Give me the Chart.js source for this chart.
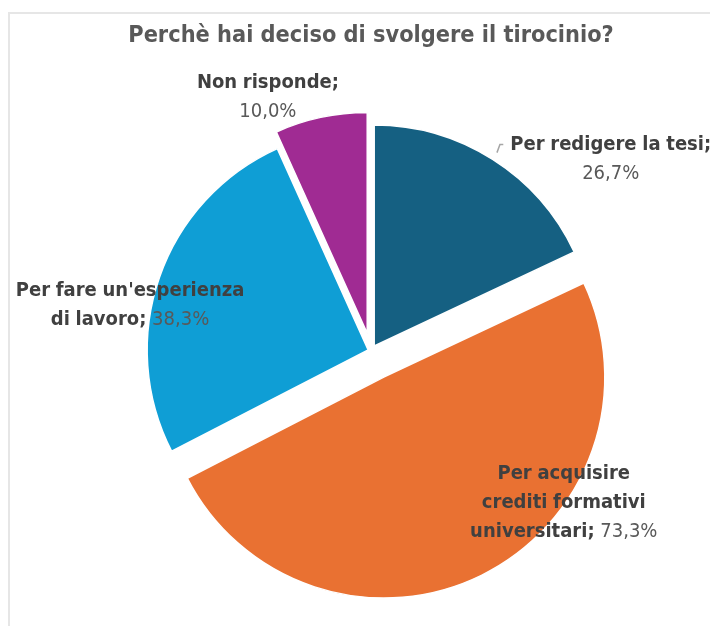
<!DOCTYPE html>
<html>
<head>
<meta charset="utf-8">
<script src="https://cdn.jsdelivr.net/npm/chart.js@4.4.1/dist/chart.umd.min.js"></script>
<style>
  html, body { margin: 0; padding: 0; background: #fff; overflow: hidden; }
  #wrap { position: relative; width: 710px; height: 626px; }
  #frame { position: absolute; left: 8px; top: 12px; width: 720px; height: 640px; border: 2px solid #e6e6e6; }
  #myChart { position: absolute; left: 0; top: 0; }
</style>
</head>
<body>
<div id="wrap">
  <div id="frame"></div>
  <canvas id="myChart" width="710" height="626"></canvas>
</div>
<script>
var titleText = 'Perchè hai deciso di svolgere il tirocinio?';
var categories = ['Per redigere la tesi', 'Per acquisire crediti formativi universitari', "Per fare un'esperienza di lavoro", 'Non risponde'];
var percentages = [26.7, 73.3, 38.3, 10.0];
var sliceColors = ['#156082', '#E97132', '#0F9ED5', '#A02B93'];

// how far each slice is pulled out of the pie (px)
var explode = [6, 29, 3, 18];
// label anchor: angle clockwise from 12 o'clock, distance in radii, wrap width
var labelSpots = [
  { angle: 51.3, dist: 1.39, wrap: 205, leader: true },
  { angle: 128.2, dist: 1.11, wrap: 190 },
  { angle: 280.8, dist: 1.11, wrap: 235 },
  { angle: 337.9, dist: 1.24, wrap: 170 }
];

var narrow = "'Liberation Sans Narrow', 'DejaVu Sans Condensed', 'Roboto Condensed', 'Liberation Sans', sans-serif";
var labelSize = 20;
var lineGap = 29;

function fmt(v) {
  return v.toFixed(1).replace('.', ',') + '%';
}

// pull the slices apart like an exploded pie
var explodePlugin = {
  id: 'explode',
  afterDatasetUpdate: function (chart, args) {
    var arcs = chart.getDatasetMeta(args.index).data;
    arcs.forEach(function (arc, i) {
      var mid = (arc.startAngle + arc.endAngle) / 2;
      arc.x += Math.cos(mid) * explode[i];
      arc.y += Math.sin(mid) * explode[i];
    });
  }
};

// "category; value" labels, bold name + regular value, word wrapped
var sliceLabels = {
  id: 'sliceLabels',
  afterDatasetsDraw: function (chart) {
    var ctx = chart.ctx;
    var area = chart.chartArea;
    var cx = (area.left + area.right) / 2;
    var cy = (area.top + area.bottom) / 2;
    var arcs = chart.getDatasetMeta(0).data;
    var r = arcs[0].outerRadius;
    var boldFont = 'bold ' + labelSize + 'px ' + narrow;
    var normFont = labelSize + 'px ' + narrow;

    ctx.save();
    ctx.textBaseline = 'middle';
    arcs.forEach(function (arc, i) {
      var spot = labelSpots[i];
      var a = spot.angle * Math.PI / 180;
      var lx = cx + Math.sin(a) * r * spot.dist;
      var ly = cy - Math.cos(a) * r * spot.dist;

      var words = (categories[i] + ';').split(' ');
      var tokens = words.map(function (w) { return { t: w, bold: true }; });
      tokens.push({ t: fmt(percentages[i]), bold: false });

      // greedy wrap
      var lines = [[]];
      var widths = [0];
      tokens.forEach(function (tk) {
        ctx.font = tk.bold ? boldFont : normFont;
        tk.w = ctx.measureText(tk.t).width;
        ctx.font = normFont;
        var sp = ctx.measureText(' ').width;
        var li = lines.length - 1;
        var extra = lines[li].length ? sp + tk.w : tk.w;
        if (lines[li].length && widths[li] + extra > spot.wrap) {
          lines.push([tk]);
          widths.push(tk.w);
        } else {
          lines[li].push(tk);
          widths[li] += extra;
        }
      });

      var y0 = ly - (lines.length - 1) * lineGap / 2;
      ctx.font = normFont;
      var space = ctx.measureText(' ').width;
      var firstLeft = 0;
      lines.forEach(function (line, k) {
        var x = lx - widths[k] / 2;
        if (k === 0) firstLeft = x;
        line.forEach(function (tk, j) {
          if (j > 0) x += space;
          ctx.font = tk.bold ? boldFont : normFont;
          ctx.fillStyle = tk.bold ? '#404040' : '#595959';
          ctx.textAlign = 'left';
          ctx.fillText(tk.t, x, y0 + k * lineGap);
          x += tk.w;
        });
      });

      if (spot.leader) {
        var mid = (arc.startAngle + arc.endAngle) / 2;
        var px = arc.x + Math.cos(mid) * (r + 8);
        var py = arc.y + Math.sin(mid) * (r + 8);
        ctx.strokeStyle = '#a6a6a6';
        ctx.lineWidth = 1.5;
        ctx.beginPath();
        ctx.moveTo(px, py);
        ctx.lineTo(px + 3, y0);
        ctx.lineTo(firstLeft - 7, y0);
        ctx.stroke();
      }
    });
    ctx.restore();
  }
};

var ctx = document.getElementById('myChart').getContext('2d');
var chart = new Chart(ctx, {
  type: 'pie',
  data: {
    labels: categories,
    datasets: [{
      data: percentages,
      backgroundColor: sliceColors,
      borderColor: '#ffffff',
      borderWidth: 1.5
    }]
  },
  options: {
    responsive: false,
    animation: false,
    radius: 221,
    layout: { padding: { left: 32, right: 0, top: 0, bottom: 0 } },
    plugins: {
      legend: { display: false },
      tooltip: { enabled: false },
      title: {
        display: true,
        text: titleText,
        color: '#595959',
        font: { family: narrow, size: 23.3, weight: 'bold' },
        padding: { top: 22, bottom: 26.1 }
      }
    }
  },
  plugins: [explodePlugin, sliceLabels]
});
</script>
</body>
</html>
